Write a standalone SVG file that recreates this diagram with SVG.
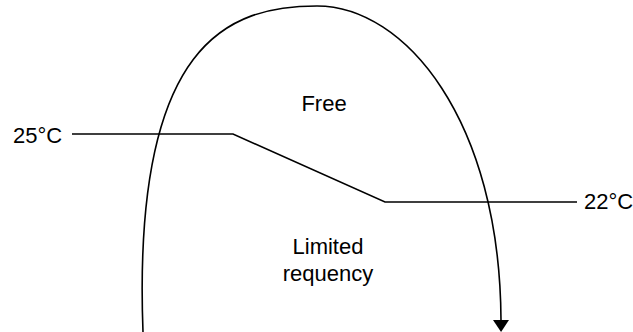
<svg xmlns="http://www.w3.org/2000/svg" width="633" height="332" viewBox="0 0 633 332">
  <style>
    .ln { fill: none; stroke: #000; stroke-width: 1.6; }
    .lbl { font-family: "Liberation Sans", Arial, sans-serif; font-size: 22px; fill: #000; }
  </style>
  <defs>
    <marker id="arrow" viewBox="0 0 12 16" refX="0" refY="8" markerWidth="12" markerHeight="16" markerUnits="userSpaceOnUse" orient="auto">
      <path d="M0,0 L12,8 L0,16 Z" fill="#000"/>
    </marker>
  </defs>
  <rect width="633" height="332" fill="#fff"/>
  <g id="connectors">
    <path id="loop" class="ln" d="M143,332 C132,40 230,6 317,6 C405,6 500,120 501,320" marker-end="url(#arrow)"/>
    <path id="temp-line" class="ln" d="M72,134 L233,134 L385,202 L577,202"/>
  </g>
  <g id="label-25">
    <text class="lbl" x="13" y="143">25°C</text>
  </g>
  <g id="label-22">
    <text class="lbl" x="584" y="209">22°C</text>
  </g>
  <g id="label-free">
    <text class="lbl" x="324" y="111" text-anchor="middle">Free</text>
  </g>
  <g id="label-limited">
    <text class="lbl" x="328" y="254" text-anchor="middle">Limited</text>
    <text class="lbl" x="328" y="281" text-anchor="middle">requency</text>
  </g>
</svg>
